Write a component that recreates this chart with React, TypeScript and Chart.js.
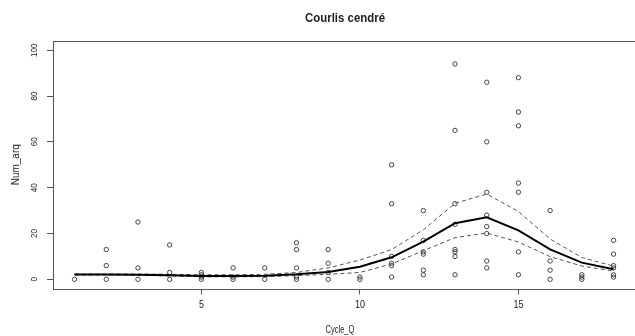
import React, { useEffect, useRef } from "react";
import { Chart, registerables } from "chart.js";

Chart.register(...registerables);

const cycles = [1, 2, 3, 4, 5, 6, 7, 8, 9, 10, 11, 12, 13, 14, 15, 16, 17, 18];
const fitted = [2.1, 2.1, 2.0, 1.8, 1.5, 1.5, 1.6, 2.2, 3.2, 5.5, 9.6, 16.5, 24.5, 27.1, 21.4, 13.1, 7.3, 4.4];
const upperCI = [2.3, 2.3, 2.3, 2.2, 2.0, 2.0, 2.2, 3.0, 5.0, 8.4, 13.0, 21.6, 33.2, 37.2, 29.6, 17.6, 9.5, 5.8];
const lowerCI = [1.9, 1.9, 1.8, 1.5, 1.1, 1.1, 1.2, 1.6, 2.2, 3.0, 6.7, 12.5, 18.2, 20.2, 16.3, 9.9, 5.8, 3.6];

const obsCycle = [
  1,
  2, 2, 2,
  3, 3, 3,
  4, 4, 4,
  5, 5, 5, 5,
  6, 6, 6,
  7, 7,
  8, 8, 8, 8, 8,
  9, 9, 9, 9,
  10, 10,
  11, 11, 11, 11, 11, 11,
  12, 12, 12, 12, 12, 12,
  13, 13, 13, 13, 13, 13, 13, 13,
  14, 14, 14, 14, 14, 14, 14, 14,
  15, 15, 15, 15, 15, 15, 15,
  16, 16, 16, 16,
  17, 17, 17,
  18, 18, 18, 18, 18, 18,
];
const obsCount = [
  0,
  13, 6, 0,
  25, 5, 0,
  15, 3, 0,
  3, 2, 1, 0,
  5, 1, 0,
  5, 0,
  16, 13, 5, 1, 0,
  13, 7, 3, 0,
  1, 0,
  50, 33, 10, 7, 6, 1,
  30, 17, 12, 11, 4, 2,
  94, 65, 33, 24, 13, 12, 10, 2,
  86, 60, 38, 28, 23, 20, 8, 5,
  88, 73, 67, 42, 38, 12, 2,
  30, 8, 4, 0,
  2, 1, 0,
  17, 11, 6, 5, 2, 1,
];

const xTickValues = [5, 10, 15];
const yTickValues = [0, 20, 40, 60, 80, 100];
const titleText = "Courlis cendré";
const xTitle = "Cycle_Q";
const yTitle = "Num_arq";

const FONT = '"Liberation Sans", Arial, sans-serif';
const TEXT = "#222";
const AXIS = "#555";

function drawText(
  ctx: CanvasRenderingContext2D,
  text: string,
  x: number,
  y: number,
  font: string,
  squeeze: number,
  rotated: boolean
) {
  ctx.save();
  ctx.translate(x, y);
  if (rotated) ctx.rotate(-Math.PI / 2);
  ctx.scale(squeeze, 1);
  ctx.font = font;
  ctx.fillStyle = TEXT;
  ctx.textAlign = "center";
  ctx.textBaseline = "middle";
  ctx.fillText(text, 0, 0);
  ctx.restore();
}

const rStylePlugin = {
  id: "rStyle",
  afterDraw(chart: any) {
    const ctx: CanvasRenderingContext2D = chart.ctx;
    const { left, right, top, bottom } = chart.chartArea;
    const xs = chart.scales.x;
    const ys = chart.scales.y;
    ctx.save();
    ctx.strokeStyle = AXIS;
    ctx.lineWidth = 1;
    ctx.strokeRect(Math.round(left) + 0.5, Math.round(top) + 0.5, Math.round(right - left), Math.round(bottom - top));
    ctx.restore();

    for (const v of yTickValues) {
      drawText(ctx, String(v), 35, ys.getPixelForValue(v), `9px ${FONT}`, 0.9, true);
    }
    for (const v of xTickValues) {
      drawText(ctx, String(v), xs.getPixelForValue(v), 305.5, `10px ${FONT}`, 0.9, false);
    }
    drawText(ctx, xTitle, 340, 330, `10px ${FONT}`, 0.75, false);
    drawText(ctx, yTitle, 16, (top + bottom) / 2, `10px ${FONT}`, 1, true);
    drawText(ctx, titleText, 345, 18, `bold 13px ${FONT}`, 0.88, false);
  },
};

export default function App() {
  const ref = useRef<HTMLCanvasElement | null>(null);
  useEffect(() => {
    if (!ref.current) return;
    const line = (vals: number[]) => cycles.map((c, i) => ({ x: c, y: vals[i] }));
    const chart = new Chart(ref.current, {
      type: "scatter",
      data: {
        datasets: [
          {
            type: "line",
            data: line(fitted),
            borderColor: "#000",
            borderWidth: 2,
            pointRadius: 0,
            tension: 0,
            fill: false,
          } as any,
          {
            type: "line",
            data: line(upperCI),
            borderColor: "#555",
            borderWidth: 1,
            borderDash: [4, 3],
            pointRadius: 0,
            tension: 0,
            fill: false,
          } as any,
          {
            type: "line",
            data: line(lowerCI),
            borderColor: "#555",
            borderWidth: 1,
            borderDash: [4, 3],
            pointRadius: 0,
            tension: 0,
            fill: false,
          } as any,
          {
            data: obsCycle.map((c, i) => ({ x: c, y: obsCount[i] })),
            pointStyle: "circle",
            pointRadius: 2.2,
            pointBorderWidth: 0.9,
            borderColor: "#333",
            backgroundColor: "rgba(0,0,0,0)",
            pointBackgroundColor: "rgba(0,0,0,0)",
            pointBorderColor: "#333",
          } as any,
        ],
      },
      options: {
        responsive: false,
        animation: false,
        events: [],
        layout: { padding: { left: 0, right: 3.4, top: 41, bottom: 0 } },
        plugins: {
          legend: { display: false },
          tooltip: { enabled: false },
          title: { display: false },
        },
        scales: {
          x: {
            type: "linear",
            min: 0.32,
            max: 18.68,
            afterBuildTicks: (s: any) => {
              s.ticks = xTickValues.map((v) => ({ value: v }));
            },
            afterFit: (s: any) => {
              s.height = 47.5;
            },
            ticks: { display: false },
            border: { display: false },
            grid: { drawOnChartArea: false, drawTicks: true, tickLength: 6, color: AXIS },
          },
          y: {
            type: "linear",
            min: -4,
            max: 104,
            afterBuildTicks: (s: any) => {
              s.ticks = yTickValues.map((v) => ({ value: v }));
            },
            afterFit: (s: any) => {
              s.width = 53;
            },
            ticks: { display: false },
            border: { display: false },
            grid: { drawOnChartArea: false, drawTicks: true, tickLength: 6, color: AXIS },
          },
        },
      } as any,
      plugins: [rStylePlugin],
    });
    return () => chart.destroy();
  }, []);
  return (
    <div style={{ position: "fixed", left: 0, top: 0, width: 635, height: 336, overflow: "hidden", background: "#fff" }}>
      <canvas ref={ref} width={640} height={336} style={{ width: 640, height: 336, display: "block" }} />
    </div>
  );
}
